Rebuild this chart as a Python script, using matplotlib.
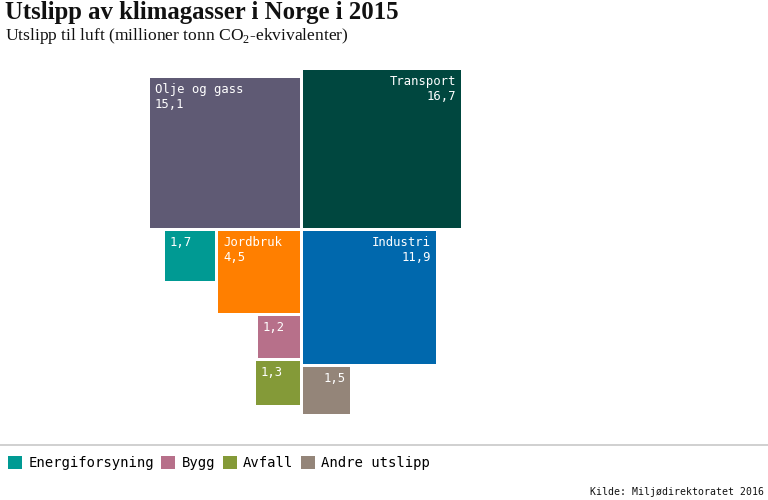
import numpy as np
import matplotlib
matplotlib.use("Agg")
import matplotlib.pyplot as plt
from matplotlib.patches import Rectangle, Patch

plt.rcParams['mathtext.fontset'] = 'custom'
plt.rcParams['mathtext.rm'] = 'Liberation Serif'

# data (millioner tonn CO2-ekvivalenter)
kilder = ['Olje og gass', 'Transport', 'Industri', 'Jordbruk',
          'Energiforsyning', 'Bygg', 'Avfall', 'Andre utslipp']
utslipp = [15.1, 16.7, 11.9, 4.5, 1.7, 1.2, 1.3, 1.5]
vis_navn = [True, True, True, True, False, False, False, False]
farger = ['#5f5a74', '#00473f', '#0068ad', '#ff7f00',
          '#009a93', '#b7708a', '#849a38', '#948579']
legend_kilder = ['Energiforsyning', 'Bygg', 'Avfall', 'Andre utslipp']

W, H = 768, 500
fig = plt.figure(figsize=(W / 100, H / 100), dpi=100)

# kvadrater: side = sqrt(verdi), skala 38.6 px per enhet
k = 38.6
cx, cy = 301.4, 270.6   # sentrum i pikselkoord (y oppover)
ax = fig.add_axes([0, 0, 1, 1])
ax.set_xlim(-cx / k, (W - cx) / k)
ax.set_ylim(-cy / k, (H - cy) / k)
ax.axis('off')

g = 0.08  # mellomrom
s = dict(zip(kilder, np.sqrt(utslipp)))
pos = {}
# (x0, y0) nedre venstre hjørne
pos['Olje og gass'] = (-g / 2 - s['Olje og gass'], g / 2)
pos['Transport'] = (g / 2, g / 2)
pos['Industri'] = (g / 2, -g / 2 - s['Industri'])
pos['Jordbruk'] = (-g / 2 - s['Jordbruk'], -g / 2 - s['Jordbruk'])
pos['Energiforsyning'] = (pos['Jordbruk'][0] - g - s['Energiforsyning'],
                          -g / 2 - s['Energiforsyning'])
pos['Bygg'] = (-g / 2 - s['Bygg'], pos['Jordbruk'][1] - g - s['Bygg'])
pos['Avfall'] = (-g / 2 - s['Avfall'], pos['Bygg'][1] - g - s['Avfall'])
pos['Andre utslipp'] = (g / 2, pos['Industri'][1] - g - s['Andre utslipp'])

pad = 5 / k
for navn, v, c, vis in zip(kilder, utslipp, farger, vis_navn):
    x0, y0 = pos[navn]
    side = s[navn]
    ax.add_patch(Rectangle((x0, y0), side, side, facecolor=c, edgecolor='none'))
    tekst = ('%s\n' % navn if vis else '') + ('%.1f' % v).replace('.', ',')
    if x0 < 0:
        ax.text(x0 + pad, y0 + side - pad, tekst, ha='left', va='top',
                color='white', fontsize=8.8, family='DejaVu Sans Mono',
                linespacing=1.2)
    else:
        ax.text(x0 + side - pad, y0 + side - pad, tekst, ha='right', va='top',
                color='white', fontsize=8.8, family='DejaVu Sans Mono',
                linespacing=1.2, multialignment='right')

# tittel
fig.text(5 / W, 1 - 1 / H, 'Utslipp av klimagasser i Norge i 2015',
         ha='left', va='top', fontsize=17.8, fontweight='bold',
         family='Liberation Serif', color='#111111')
fig.text(5 / W, 1 - 26 / H, r'Utslipp til luft (millioner tonn CO$_2$-ekvivalenter)',
         ha='left', va='top', fontsize=12.6, family='Liberation Serif',
         color='#111111')

# linje over tegnforklaring
fig.add_artist(plt.Line2D([0, 1], [1 - 445 / H, 1 - 445 / H], color='#c8c8c8',
                          lw=1.2, transform=fig.transFigure))

handles = [Patch(facecolor=farger[kilder.index(n)], edgecolor='none', label=n)
           for n in legend_kilder]
fig.legend(handles=handles, loc='center left', bbox_to_anchor=(8 / W, 1 - 463 / H),
           ncol=4, frameon=False, handlelength=1.0, handleheight=1.05,
           handletextpad=0.45, columnspacing=0.55, borderaxespad=0,
           borderpad=0, prop={'family': 'DejaVu Sans Mono', 'size': 10})

fig.text(1 - 4 / W, 1 - 492 / H, 'Kilde: Miljødirektoratet 2016', ha='right',
         va='center', fontsize=7.1, family='DejaVu Sans Mono', color='#111111')

fig.savefig('out.png', dpi=100)
